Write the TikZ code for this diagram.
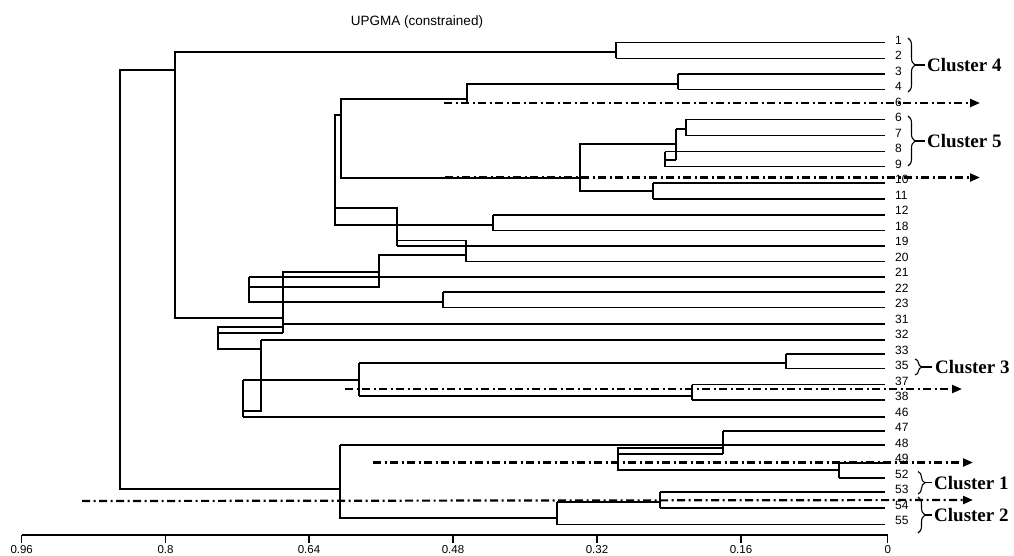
\documentclass[tikz,border=0pt]{standalone}
\usepackage{fontspec}
\setmainfont{Liberation Serif}
\newfontfamily\lsans{Liberation Sans}
\usetikzlibrary{arrows.meta,decorations.pathreplacing}
\tikzset{
  tree/.style={line width=1.1pt, line join=miter},
  leaflab/.style={anchor=west, inner sep=0pt, font=\lsans\fontsize{12}{14}\selectfont},
  ticklab/.style={inner sep=0pt, font=\lsans\fontsize{11.5}{13}\selectfont},
  clus/.style={anchor=west, inner sep=0pt, font=\bfseries\fontsize{19}{22}\selectfont},
  cutline/.style={line width=2.2pt, dash pattern=on 8pt off 3.5pt on 2pt off 3.5pt, -{Triangle[length=10pt,width=8pt]}},
  brc/.style={decorate, decoration={brace, amplitude=7pt}, line width=1.1pt},
}
\begin{document}
\begin{tikzpicture}[x=1pt,y=-1pt]
\useasboundingbox (0,0) rectangle (1014,555);
% title
\node[font=\lsans\fontsize{13.5}{16}\selectfont, inner sep=0pt] (title) at (417,22) {UPGMA (constrained)};
% leaf labels
\foreach \t [count=\k from 0] in {1,2,3,4,6,6,7,8,9,10,11,12,18,19,20,21,22,23,31,32,33,35,37,38,46,47,48,49,52,53,54,55}
  \node[leaflab] (lab\k) at ({895},{40+15.5*\k}) {\t};
% leaf lines (start x, y)
\foreach \xs/\yy in {616/42.3, 616/58.3, 678/74, 678/89.3, 686/119.3, 686/135.7, 665/151.7, 665/166.7,
  653/183, 653/199, 493/215, 493/230.5, 397/246, 466/261.5, 249/277, 443/292, 443/307.5,
  283/324, 261/340, 786/354, 786/368.5, 692/384.5, 692/400, 243/417, 723/431, 340/445,
  839/463, 839/478, 660/492, 660/508, 557/524.5}
  \draw[tree] (\xs,\yy) -- (885,\yy);
% internal structure
\draw[tree] (175,70) -- (120,70) -- (120,489) -- (340,489);
\draw[tree] (616,52) -- (175,52) -- (175,318) -- (283,318);
\draw[tree] (616,42.3) -- (616,58.3);
\draw[tree] (678,74) -- (678,89.3);
\draw[tree] (678,84) -- (467,84) -- (467,104);
\draw[tree] (467,99) -- (341,99) -- (341,178) -- (580,178);
\draw[tree] (341,115) -- (335,115) -- (335,225) -- (493,225);
\draw[tree] (493,215) -- (493,230.5);
\draw[tree] (676,144) -- (580,144) -- (580,191) -- (653,191);
\draw[tree] (653,183) -- (653,199);
\draw[tree] (676,129) -- (676,160);
\draw[tree] (686,119.3) -- (686,135.7);
\draw[tree] (686,129) -- (676,129);
\draw[tree] (665,151.7) -- (665,166.7);
\draw[tree] (665,160) -- (676,160);
\draw[tree] (335,208) -- (397,208) -- (397,246);
\draw[tree] (397,240.5) -- (466,240.5) -- (466,261.5);
\draw[tree] (466,255) -- (379,255) -- (379,287) -- (249,287);
\draw[tree] (379,272) -- (283,272) -- (283,333);
\draw[tree] (249,277) -- (249,302) -- (443,302);
\draw[tree] (443,292) -- (443,307.5);
\draw[tree] (283,327) -- (218,327) -- (218,349) -- (261,349);
\draw[tree] (218,333) -- (283,333);
\draw[tree] (261,340) -- (261,411) -- (243,411);
\draw[tree] (243,380) -- (243,417);
\draw[tree] (243,380) -- (359,380);
\draw[tree] (359,363) -- (359,396);
\draw[tree] (359,363) -- (786,363);
\draw[tree] (786,354) -- (786,368.5);
\draw[tree] (359,396) -- (692,396);
\draw[tree] (692,384.5) -- (692,400);
\draw[tree] (340,445) -- (340,518) -- (557,518);
\draw[tree] (557,502) -- (557,524.5);
\draw[tree] (557,502) -- (660,502);
\draw[tree] (660,492) -- (660,508);
\draw[tree] (723,448) -- (618,448) -- (618,470) -- (839,470);
\draw[tree] (618,454) -- (723,454);
\draw[tree] (723,431) -- (723,454);
\draw[tree] (839,463) -- (839,478);
% cut lines
\coordinate (c1s) at (444,103);   \coordinate (c1e) at (980,103);
\coordinate (c2s) at (445,177.5); \coordinate (c2e) at (980,177.5);
\coordinate (c3s) at (345,389);   \coordinate (c3e) at (962,389);
\coordinate (c4s) at (373,462.5); \coordinate (c4e) at (973,462.5);
\coordinate (c5s) at (82,501);    \coordinate (c5e) at (973,500);
\foreach \i in {1,...,5} \draw[cutline] (c\i s) -- (c\i e);
% axis
\draw[tree] (21.7,535) -- (887.7,535);
\foreach \xx/\lab in {21.7/0.96, 165.5/0.8, 309/0.64, 453/0.48, 597/0.32, 741/0.16, 887.7/0}{
  \draw[tree] (\xx,535) -- (\xx,543);
  \node[ticklab] at (\xx,549.5) {\lab};
}
% cluster braces
\draw[brc] (908,38) -- (908,92);   \draw[tree] (915,65) -- (925,65);
\node[clus] (cl4) at (927,65) {Cluster 4};
\draw[brc] (908,116) -- (908,166); \draw[tree] (915,141) -- (925,141);
\node[clus] (cl5) at (927,141) {Cluster 5};
\draw[brc] (915,359) -- (915,375); \draw[tree] (922,367) -- (932,367);
\node[clus] (cl3) at (935,367) {Cluster 3};
\draw[brc] (918,471.5) -- (918,494); \draw[tree] (925,482.7) -- (932,482.7);
\node[clus] (cl1) at (934,482.7) {Cluster 1};
\draw[brc] (918,497) -- (918,533); \draw[tree] (925,515) -- (932,515);
\node[clus] (cl2) at (934,515) {Cluster 2};
\end{tikzpicture}
\end{document}
